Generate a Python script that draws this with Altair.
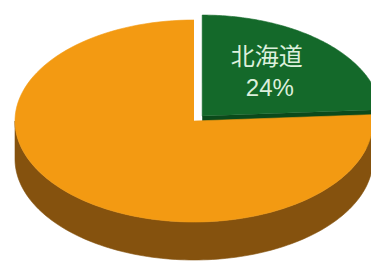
import altair as alt
import pandas as pd

# ---- data ----
regions = ["北海道", "その他"]
shares = [24, 76]

# ---- styles / geometry ----
top_colors = ["#14692a", "#f39a12"]
side_colors = ["#0b4a1b", "#85520e"]
CX, CY = 194.0, 121.0
RX, RY = 179.0, 101.0
DEPTH = 38.0
EXPLODE = 12.0
HIGHLIGHT = "北海道"
LABEL_R = 0.56
N = 120
W, H = 363, 256  # fits inside the 379x264 window with the 8px page margin

df = pd.DataFrame({"i": list(range(len(regions))), "region": regions, "share": shares})

# scales map page pixels 1:1 (plot origin sits at the 8px page margin)
xs = alt.Scale(domain=[8, 8 + W], nice=False, zero=False)
ys = alt.Scale(domain=[8, 8 + H], nice=False, zero=False, reverse=True)

base = (
    alt.Chart(df)
    .transform_window(cum="sum(share)", sort=[alt.SortField("i")])
    .transform_joinaggregate(total="sum(share)")
    .transform_calculate(
        a0="2*PI*(datum.cum - datum.share)/datum.total",
        a1="2*PI*datum.cum/datum.total",
    )
    .transform_calculate(am="(datum.a0 + datum.a1)/2")
    .transform_calculate(
        ox=f"{CX} + (datum.region == '{HIGHLIGHT}' ? {EXPLODE}*sin(datum.am) : 0)",
        oy=f"{CY} + (datum.region == '{HIGHLIGHT}' ? -{EXPLODE}*cos(datum.am)*{RY/RX} : 0)",
    )
)

def enc(chart, colors):
    sc = alt.Scale(domain=regions, range=colors)
    return chart.encode(
        x=alt.X("px:Q", scale=xs, axis=None),
        y=alt.Y("py:Q", scale=ys, axis=None),
        order=alt.Order("k:Q"),
        fill=alt.Fill("region:N", scale=sc, legend=None),
        stroke=alt.Stroke("region:N", scale=sc, legend=None),
    )

# radial cut faces (visible ones)
cut = (
    base.transform_calculate(f="[0, 1]")
    .transform_flatten(["f"])
    .transform_calculate(
        fa="datum.f == 0 ? datum.a1 : datum.a0",
        vis="datum.f == 0 ? sin(datum.a1) : -sin(datum.a0)",
    )
    .transform_filter("datum.vis > 0.01")
    .transform_calculate(k="sequence(0, 4)")
    .transform_flatten(["k"])
    .transform_calculate(r="(datum.k == 1 || datum.k == 2) ? 1 : 0")
    .transform_calculate(
        px=f"datum.ox + {RX}*datum.r*sin(datum.fa)",
        py=f"datum.oy - {RY}*datum.r*cos(datum.fa) + (datum.k >= 2 ? {DEPTH} : 0)",
    )
    .mark_line(strokeWidth=0.6)
)
cut = enc(cut, side_colors)

# outer side walls (front half only)
side = (
    base.transform_calculate(b0="max(datum.a0, PI/2)", b1="min(datum.a1, 3*PI/2)")
    .transform_filter("datum.b1 > datum.b0")
    .transform_calculate(k=f"sequence(0, {2 * N + 2})")
    .transform_flatten(["k"])
    .transform_calculate(j=f"datum.k <= {N} ? datum.k : {2 * N + 1} - datum.k")
    .transform_calculate(th=f"datum.b0 + (datum.b1 - datum.b0)*datum.j/{N}")
    .transform_calculate(
        px=f"datum.ox + {RX}*sin(datum.th)",
        py=f"datum.oy - {RY}*cos(datum.th) + (datum.k <= {N} ? 0 : {DEPTH})",
    )
    .mark_line(strokeWidth=0.6)
)
side = enc(side, side_colors)

# top faces
top = (
    base.transform_calculate(k=f"sequence(-1, {N + 1})")
    .transform_flatten(["k"])
    .transform_calculate(th=f"datum.a0 + (datum.a1 - datum.a0)*datum.k/{N}")
    .transform_calculate(
        px=f"datum.k < 0 ? datum.ox : datum.ox + {RX}*sin(datum.th)",
        py=f"datum.k < 0 ? datum.oy : datum.oy - {RY}*cos(datum.th)",
    )
    .mark_line(strokeWidth=0.6)
)
top = enc(top, top_colors)

label_base = base.transform_filter(f"datum.region == '{HIGHLIGHT}'").transform_calculate(
    px=f"datum.ox + {LABEL_R * RX}*sin(datum.am)",
    py=f"datum.oy - {LABEL_R * RY}*cos(datum.am)",
    pct="datum.share + '%'",
)
pos = dict(
    x=alt.X("px:Q", scale=xs, axis=None),
    y=alt.Y("py:Q", scale=ys, axis=None),
)
name_label = label_base.mark_text(
    fontSize=24, font="Noto Sans CJK JP", color="#dcefdc", align="center",
    baseline="alphabetic", dx=-4, dy=-10,
).encode(text="region:N", **pos)
pct_label = label_base.mark_text(
    fontSize=24, font="Liberation Sans", color="#dcefdc", align="center",
    baseline="alphabetic", dx=-1, dy=21,
).encode(text="pct:N", **pos)

chart = (
    alt.layer(cut, side, top, name_label, pct_label)
    .resolve_scale(fill="independent", stroke="independent")
    .properties(
        width=W,
        height=H,
        padding=0,
        autosize=alt.AutoSizeParams(type="none"),
        background="white",
    )
    .configure_view(stroke=None)
)

chart.save("out.html", embed_options={"renderer": "svg", "actions": False})
